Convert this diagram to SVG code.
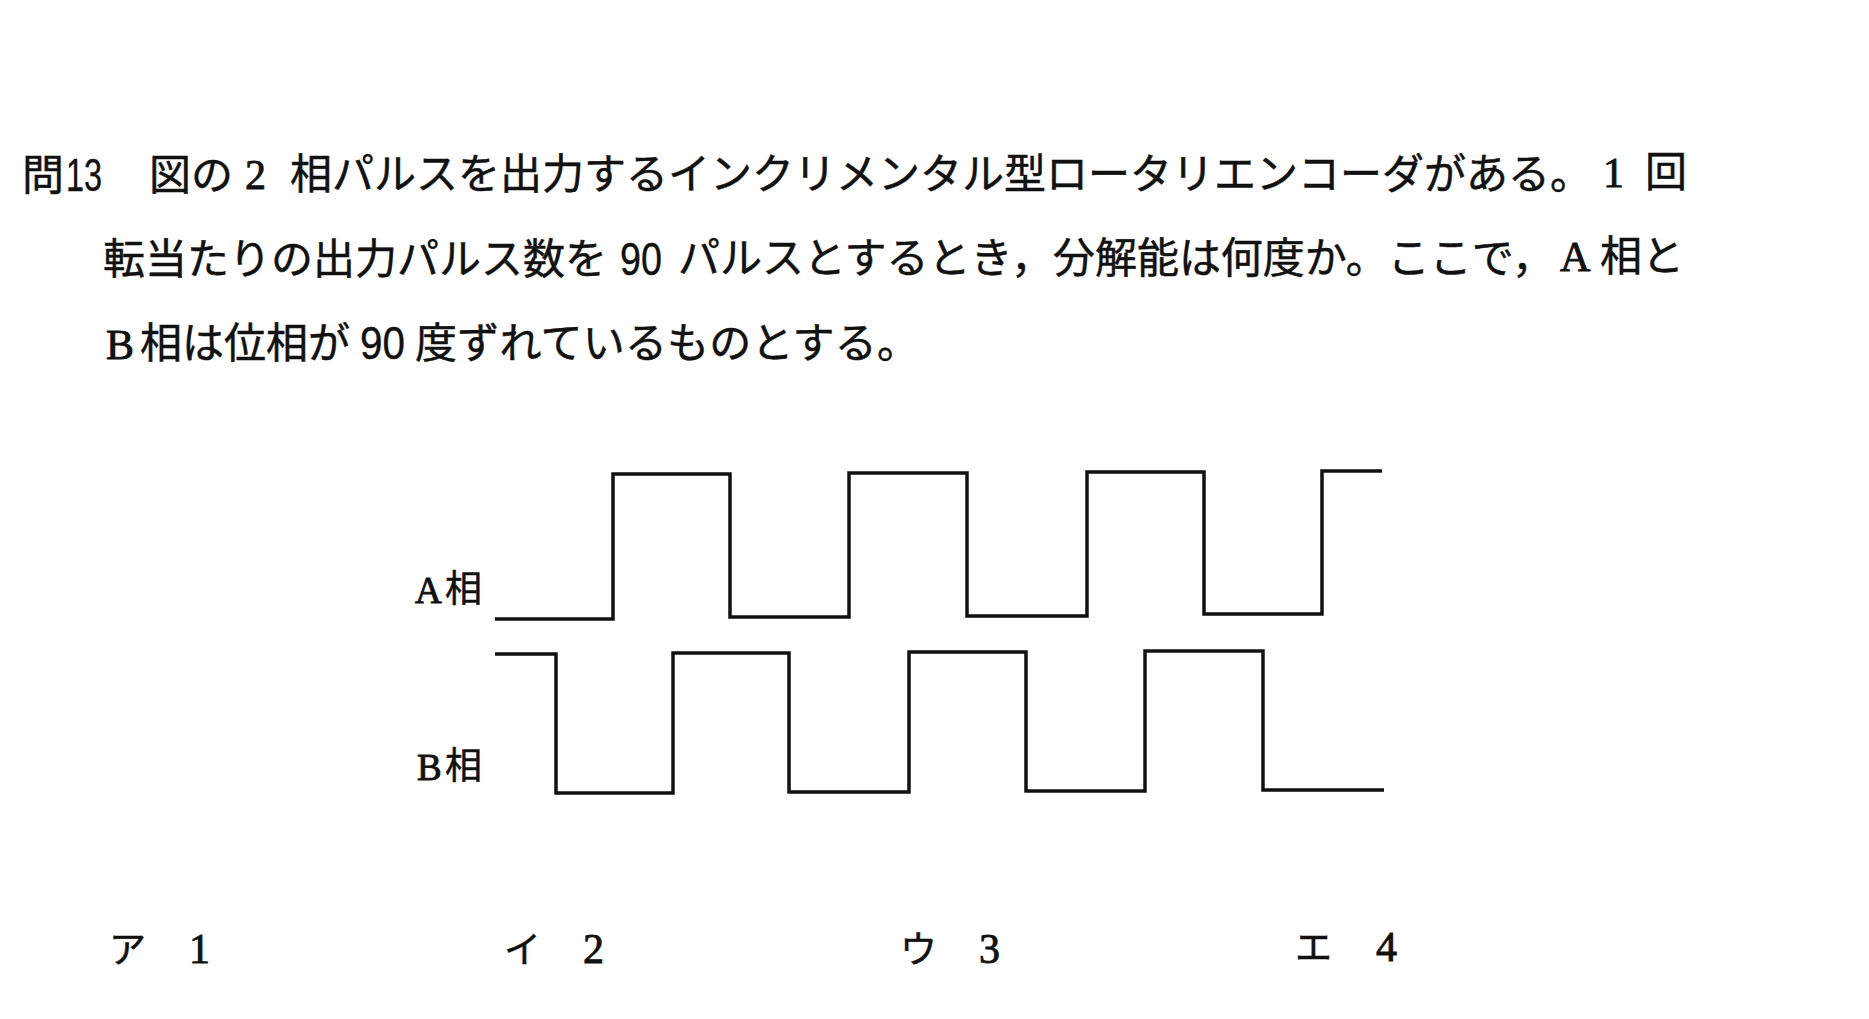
<svg xmlns="http://www.w3.org/2000/svg" width="1869" height="1019" viewBox="0 0 1869 1019">
<style>
.jp{font-family:"Noto Sans CJK JP","Noto Sans CJK SC",sans-serif;font-size:42px;fill:#111;stroke:#111;stroke-width:0.5}
.sr{font-family:"Liberation Serif","DejaVu Serif",serif;font-size:42px;fill:#111;stroke:#111;stroke-width:0.9}
.ss{font-family:"Liberation Sans","DejaVu Sans",sans-serif;font-size:46px;fill:#111;stroke:#111;stroke-width:0.4}
.lbl{font-size:37px}
.ans{font-size:37px}
.wave{fill:none;stroke:#111;stroke-width:3.5;stroke-linejoin:miter;stroke-linecap:butt}
</style>
<rect x="0" y="0" width="1869" height="1019" fill="#fff"/>
<g id="question">
<text class="jp" x="22" y="190">問</text>
<text class="ss" x="66" y="191" textLength="36" lengthAdjust="spacingAndGlyphs">13</text>
<text class="jp" x="149" y="190">図の</text>
<text class="sr" x="245" y="189">2</text>
<text class="jp" x="290" y="189" textLength="1302" lengthAdjust="spacing">相パルスを出力するインクリメンタル型ロータリエンコーダがある。</text>
<text class="sr" x="1603" y="187">1</text>
<text class="jp" x="1645" y="187">回</text>
<text class="jp" x="103" y="274" textLength="504" lengthAdjust="spacing">転当たりの出力パルス数を</text>
<text class="ss" x="620" y="275" textLength="42" lengthAdjust="spacingAndGlyphs">90</text>
<text class="jp" x="678" y="273" textLength="876" lengthAdjust="spacing">パルスとするとき，分解能は何度か。ここで，</text>
<text class="sr" x="1560" y="271">A</text>
<text class="jp" x="1600" y="271">相と</text>
<text class="sr" x="106" y="359">B</text>
<text class="jp" x="140" y="358" textLength="210" lengthAdjust="spacing">相は位相が</text>
<text class="ss" x="360" y="359" textLength="45" lengthAdjust="spacingAndGlyphs">90</text>
<text class="jp" x="415" y="358" textLength="504" lengthAdjust="spacing">度ずれているものとする。</text>
</g>
<g id="label-a">
<text class="sr lbl" x="415" y="603">A</text>
<text class="jp lbl" x="445" y="602">相</text>
</g>
<g id="label-b">
<text class="sr lbl" x="417" y="780">B</text>
<text class="jp lbl" x="445" y="779">相</text>
</g>
<g id="connectors">
<path id="wave-a" class="wave" d="M495,619 H613 V474 H730 V617 H849 V473 H967 V616 H1087 V472 H1204 V614 H1322 V471 H1382"/>
<path id="wave-b" class="wave" d="M495,654 H556 V793 H673 V653 H789 V792 H909 V652 H1026 V791 H1145 V651 H1263 V790 H1384"/>
</g>
<g id="answers">
<text class="jp ans" x="109" y="963">ア</text>
<text class="sr" x="189" y="963">1</text>
<text class="jp ans" x="504" y="963">イ</text>
<text class="sr" x="583" y="963">2</text>
<text class="jp ans" x="900" y="963">ウ</text>
<text class="sr" x="979" y="963">3</text>
<text class="jp ans" x="1295" y="961">エ</text>
<text class="sr" x="1376" y="961">4</text>
</g>
</svg>
